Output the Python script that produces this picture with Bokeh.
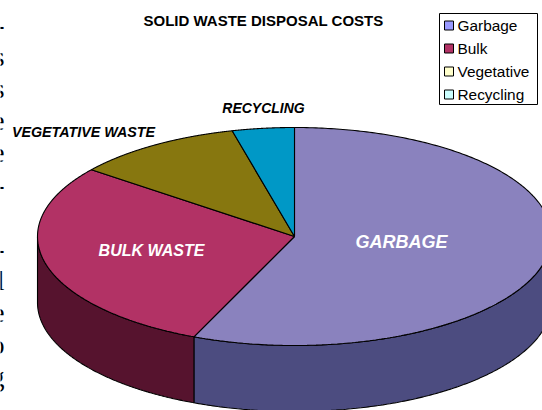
import numpy as np
from bokeh.plotting import figure
from bokeh.models import Range1d
from bokeh.core.properties import value
from bokeh.embed import file_html
from bokeh.resources import INLINE

categories = ["Garbage", "Bulk", "Vegetative", "Recycling"]
costs = [56.4, 29.1, 10.6, 3.9]
top_colors = ["#8A82BE", "#B23265", "#87770F", "#0098C6"]
side_colors = ["#4C4C80", "#56132E", "#44400A", "#004C66"]
legend_colors = ["#9999FF", "#B23265", "#FFFFCC", "#CCFFFF"]
slice_labels = ["GARBAGE", "BULK WASTE", "VEGETATIVE WASTE", "RECYCLING"]
label_x = [401, 151, 83, 263]
label_y = [241, 250, 131, 107]
label_sizes = ["18px", "16px", "14.3px", "14px"]
label_colors = ["white", "white", "black", "black"]
title = "SOLID WASTE DISPOSAL COSTS"
margin_letters = ["-", "s", "s", "e", "e", "-", "-", "l", "e", "o", "g"]
margin_baselines = [24, 56, 88, 120, 152, 184, 248, 280, 312, 344, 376]

CX, CY, RX, RY, DEPTH = 294, 236, 257, 109, 66

p = figure(width=542, height=410, output_backend="svg", toolbar_location=None,
           x_range=Range1d(0, 542), y_range=Range1d(410, 0), min_border=0,
           outline_line_color=None, background_fill_color="white",
           margin=(0, 0, 0, 0))
p.axis.visible = False
p.grid.visible = False

fr = np.cumsum([0] + costs) / sum(costs) * 2 * np.pi
def ex(t): return CX + RX * np.sin(t)
def ey(t): return CY - RY * np.cos(t)

# sides
for i in range(4):
    a, b = max(fr[i], np.pi / 2), min(fr[i + 1], 3 * np.pi / 2)
    if a >= b:
        continue
    t = np.linspace(a, b, 200)
    xs = np.r_[ex(t), ex(t[::-1])]
    ys = np.r_[ey(t), ey(t[::-1]) + DEPTH]
    p.patch(xs, ys, fill_color=side_colors[i], line_color="black", line_width=1.1)

# tops
for i in range(4):
    t = np.linspace(fr[i], fr[i + 1], 300)
    p.patch(np.r_[CX, ex(t)], np.r_[CY, ey(t)], fill_color=top_colors[i],
            line_color="black", line_width=1.1)

for x, y, s, c, z in zip(label_x, label_y, slice_labels, label_colors, label_sizes):
    p.text([x], [y], text=[s], text_color=c,
           text_font=value("Liberation Sans"), text_font_style="bold italic",
           text_font_size=z, text_align="center", text_baseline="middle")
p.text([263], [20], text=[title], text_color="black", text_font=value("Liberation Sans"),
       text_font_style="bold", text_font_size="15px", text_align="center", text_baseline="middle")

p.text([4] * len(margin_letters), margin_baselines, text=margin_letters, text_color="black",
       text_font=value("Liberation Serif"), text_font_size="27px",
       text_align="right", text_baseline="alphabetic")

# legend
p.quad(left=[439], right=[537], top=[13], bottom=[104], fill_color="white", line_color="black", line_width=1)
leg_y = [25, 48, 71, 94]
p.quad(left=[444] * 4, right=[453] * 4, top=[y - 4.5 for y in leg_y], bottom=[y + 4.5 for y in leg_y],
       fill_color=legend_colors, line_color="black", line_width=1)
p.text([457] * 4, leg_y, text=categories, text_color="black", text_font=value("Liberation Sans"),
       text_font_size="15.4px", text_align="left", text_baseline="middle")

open("out.html", "w").write(file_html(p, INLINE))
